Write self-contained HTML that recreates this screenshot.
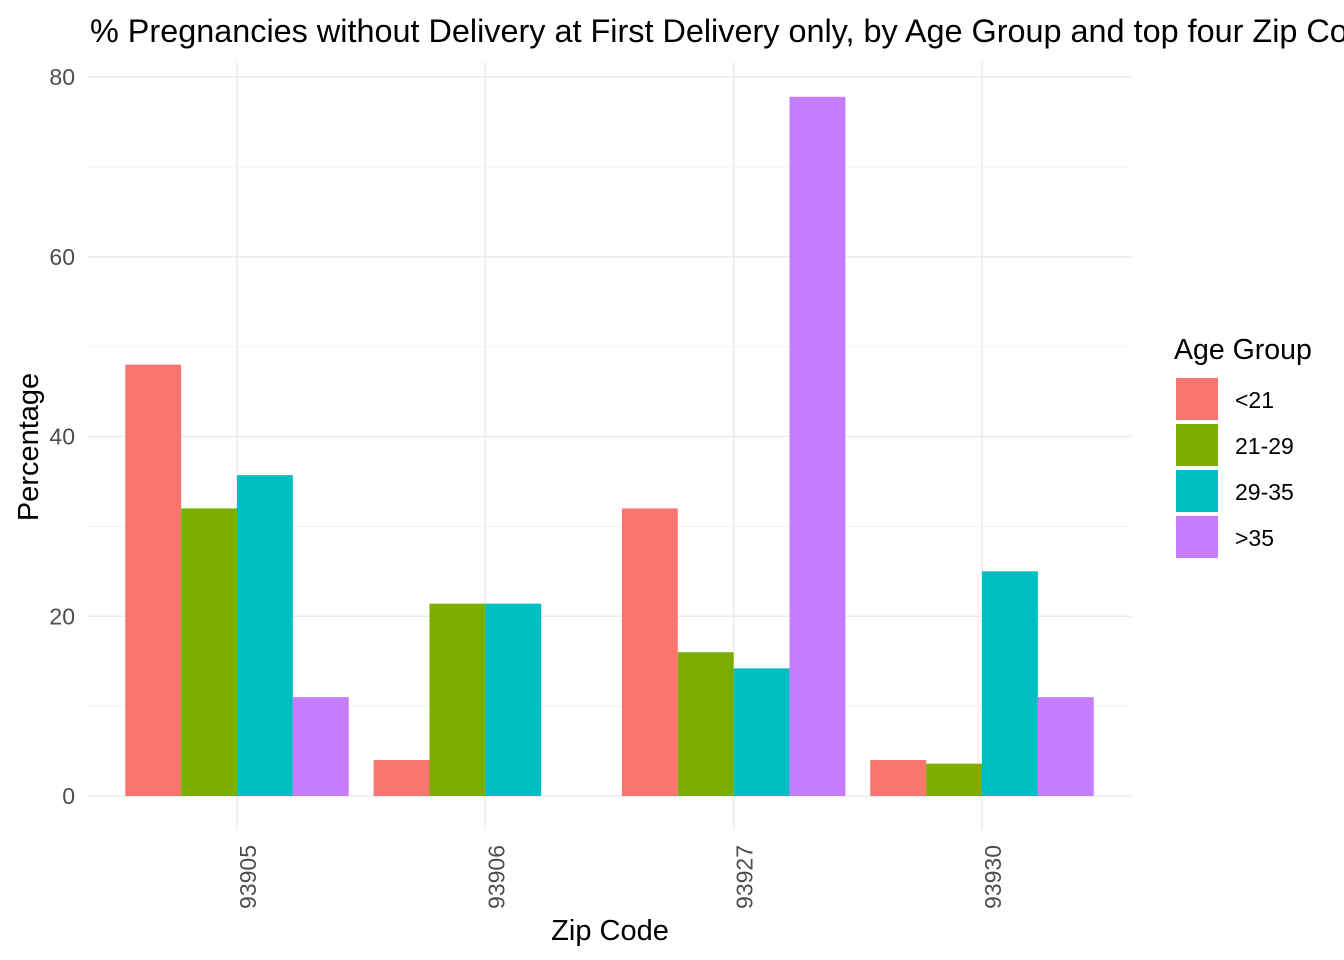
<!DOCTYPE html>
<html><head><meta charset="utf-8"><style>
body{margin:0;background:#fff;overflow:hidden;}
svg{display:block;font-family:"Liberation Sans",Arial,sans-serif;}
</style></head><body>
<svg id="chart" width="1344" height="960">
<text x="90" y="42" font-size="32.4" fill="#000">% Pregnancies without Delivery at First Delivery only, by Age Group and top four Zip Codes</text>
<g id="grid"></g>
<g id="bars"></g>
<g id="axes"></g>
<text x="610" y="940" font-size="29" text-anchor="middle" fill="#000">Zip Code</text>
<text transform="translate(38,447) rotate(-90)" font-size="29" text-anchor="middle" fill="#000">Percentage</text>
<g id="legend">
<text x="1174" y="359" font-size="28.5" fill="#000">Age Group</text>
</g>
</svg>
<script>
const categories = ["93905","93906","93927","93930"];
const groups = ["<21","21-29","29-35",">35"];
const colors = ["#F8766D","#7CAE00","#00BFC4","#C77CFF"];
const valuesU21 = [48, 4, 32, 4];
const values2129 = [32, 21.4, 16, 3.6];
const values2935 = [35.7, 21.4, 14.2, 25];
const valuesO35 = [11, 0, 77.8, 11];
const yTicks = [0,20,40,60,80];
const yMinor = [10,30,50,70];
const series = [valuesU21, values2129, values2935, valuesO35];

const NS="http://www.w3.org/2000/svg";
const left=88, right=1131, y0px=796, y80px=77;
const yScale=v=>y0px-(v/80)*(y0px-y80px);
const step=(right-left)/(categories.length+0.2);
const xScale=i=>left+step*(0.6+i);
const groupW=step*0.9, barW=groupW/groups.length;
function mk(tag,attrs,parent){const e=document.createElementNS(NS,tag);for(const k in attrs)e.setAttribute(k,attrs[k]);parent.appendChild(e);return e;}
const grid=document.getElementById('grid'), bars=document.getElementById('bars'), axes=document.getElementById('axes'), legend=document.getElementById('legend');
yMinor.forEach(v=>{const l=mk('line',{x1:left,x2:right,y1:yScale(v),y2:yScale(v),stroke:'#f2f2f2','stroke-width':1},grid);

});
yTicks.forEach(v=>{const l=mk('line',{x1:left,x2:right,y1:yScale(v),y2:yScale(v),stroke:'#ebebeb','stroke-width':1.5},grid);


const t=mk('text',{x:75,y:yScale(v)+8,'font-size':23,'text-anchor':'end',fill:'#4d4d4d'},axes);t.textContent=v;

});
categories.forEach((c,i)=>{const x=xScale(i);
const l=mk('line',{x1:x,x2:x,y1:62,y2:830,stroke:'#ebebeb','stroke-width':1.5},grid);


const t=mk('text',{transform:`translate(${x+19},845) rotate(-90)`,'font-size':23,'text-anchor':'end',fill:'#4d4d4d'},axes);t.textContent=c;


series.forEach((s,g)=>{const v=s[i];if(!v)return;
const bx=x-groupW/2+g*barW;
const r=mk('rect',{x:bx,y:yScale(v),width:barW,height:y0px-yScale(v),fill:colors[g]},bars);

});});
groups.forEach((g,i)=>{const y=378+i*46;
const r=mk('rect',{x:1176,y:y,width:42,height:42,fill:colors[i]},legend);


const t=mk('text',{x:1235,y:y+30,'font-size':23,fill:'#000'},legend);t.textContent=g;

});
</script>
</body></html>
